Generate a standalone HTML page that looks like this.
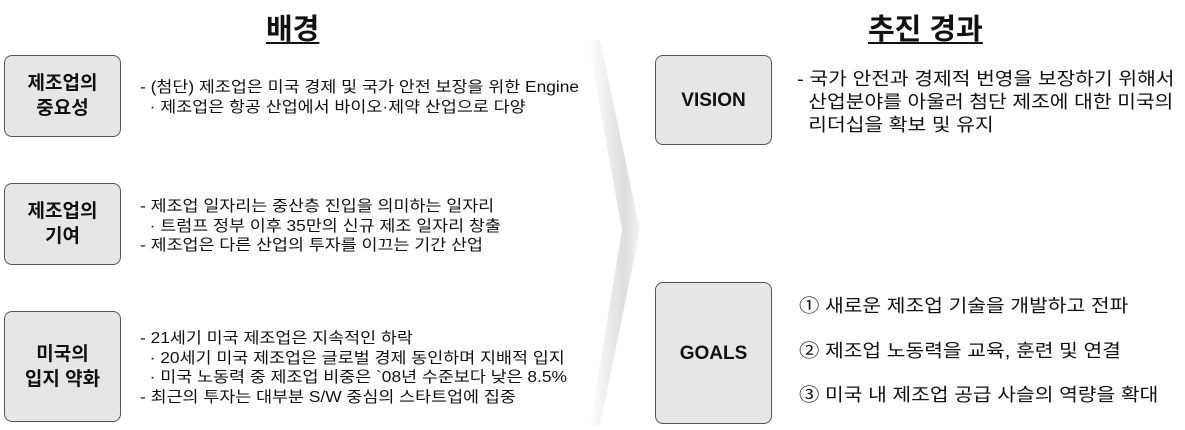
<!DOCTYPE html>
<html><head><meta charset="utf-8"><style>
body{margin:0;width:1185px;height:430px;background:#fff;position:relative;overflow:hidden;font-family:"Liberation Sans","Noto Sans CJK KR",sans-serif;color:#111}
.t{position:absolute;font-weight:bold;font-size:29px;text-decoration:underline;text-underline-offset:3px;text-decoration-thickness:2px}
.box{position:absolute;background:#e6e6e6;border:1.5px solid #555;border-radius:8px;display:flex;align-items:center;justify-content:center;text-align:center;font-weight:bold;font-size:19px;line-height:25px;box-sizing:border-box}
.tx{position:absolute;font-size:15.5px;line-height:19.5px;white-space:nowrap;transform:scaleX(1.12);transform-origin:0 0}
.tr{position:absolute;font-size:18px;line-height:23px;white-space:nowrap;transform:scaleX(1.13);transform-origin:0 0}
</style></head><body>
<svg width="1185" height="430" style="position:absolute;left:0;top:0">
<defs><linearGradient id="g" x1="0" x2="1"><stop offset="0" stop-color="#fff"/><stop offset="0.7" stop-color="#ddd"/><stop offset="1" stop-color="#f4f4f4"/></linearGradient></defs>
<polygon points="588,40 600,40 640,230 600,425 590,425 622,230" fill="url(#g)"/>
</svg>
<div class="t" style="left:266px;top:6px">배경</div>
<div class="t" style="left:868px;top:6px">추진 경과</div>
<div class="box" style="left:4px;top:55px;width:117px;height:82px">제조업의<br>중요성</div>
<div class="box" style="left:4px;top:183px;width:117px;height:82px">제조업의<br>기여</div>
<div class="box" style="left:4px;top:311px;width:117px;height:111px">미국의<br>입지 약화</div>
<div class="tx" style="left:140px;top:78px">- (첨단) 제조업은 미국 경제 및 국가 안전 보장을 위한 Engine<br>&nbsp;&nbsp;· 제조업은 항공 산업에서 바이오·제약 산업으로 다양</div>
<div class="tx" style="left:140px;top:197px">- 제조업 일자리는 중산층 진입을 의미하는 일자리<br>&nbsp;&nbsp;· 트럼프 정부 이후 35만의 신규 제조 일자리 창출<br>- 제조업은 다른 산업의 투자를 이끄는 기간 산업</div>
<div class="tx" style="left:140px;top:329px">- 21세기 미국 제조업은 지속적인 하락<br>&nbsp;&nbsp;· 20세기 미국 제조업은 글로벌 경제 동인하며 지배적 입지<br>&nbsp;&nbsp;· 미국 노동력 중 제조업 비중은 `08년 수준보다 낮은 8.5%<br>- 최근의 투자는 대부분 S/W 중심의 스타트업에 집중</div>
<div class="box" style="left:655px;top:55px;width:117px;height:90px">VISION</div>
<div class="box" style="left:655px;top:282px;width:117px;height:142px">GOALS</div>
<div class="tr" style="left:797px;top:68px">- 국가 안전과 경제적 번영을 보장하기 위해서<br>&nbsp;&nbsp;산업분야를 아울러 첨단 제조에 대한 미국의<br>&nbsp;&nbsp;리더십을 확보 및 유지</div>
<div class="tr" style="left:799px;top:295px">① 새로운 제조업 기술을 개발하고 전파</div>
<div class="tr" style="left:799px;top:340px">② 제조업 노동력을 교육, 훈련 및 연결</div>
<div class="tr" style="left:799px;top:384px">③ 미국 내 제조업 공급 사슬의 역량을 확대</div>
</body></html>
